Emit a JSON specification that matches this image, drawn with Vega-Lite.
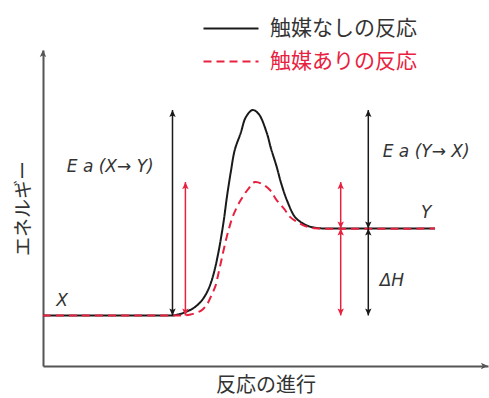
{
  "$schema": "https://vega.github.io/schema/vega-lite/v6.json",
  "width": 445,
  "height": 316,
  "autosize": {"type": "none"},
  "padding": {"left": 43, "top": 50, "right": 1, "bottom": 32},
  "background": "white",
  "config": {"view": {"stroke": null}},
  "datasets": {
    "curves": [
      {"series": "触媒なしの反応", "progress": 0, "energy": 16},
      {"series": "触媒なしの反応", "progress": 26, "energy": 16},
      {"series": "触媒なしの反応", "progress": 29.7, "energy": 16.1},
      {"series": "触媒なしの反応", "progress": 31.9, "energy": 17.0},
      {"series": "触媒なしの反応", "progress": 34.0, "energy": 18.5},
      {"series": "触媒なしの反応", "progress": 35.6, "energy": 20.6},
      {"series": "触媒なしの反応", "progress": 36.8, "energy": 23.2},
      {"series": "触媒なしの反応", "progress": 37.8, "energy": 26.6},
      {"series": "触媒なしの反応", "progress": 38.6, "energy": 30.6},
      {"series": "触媒なしの反応", "progress": 39.3, "energy": 35.1},
      {"series": "触媒なしの反応", "progress": 40.0, "energy": 40.5},
      {"series": "触媒なしの反応", "progress": 40.7, "energy": 46.8},
      {"series": "触媒なしの反応", "progress": 41.3, "energy": 53.2},
      {"series": "触媒なしの反応", "progress": 42.2, "energy": 61.4},
      {"series": "触媒なしの反応", "progress": 43.1, "energy": 68.4},
      {"series": "触媒なしの反応", "progress": 44.4, "energy": 73.6},
      {"series": "触媒なしの反応", "progress": 45.6, "energy": 78.8},
      {"series": "触媒なしの反応", "progress": 47.1, "energy": 81},
      {"series": "触媒なしの反応", "progress": 48.5, "energy": 79.7},
      {"series": "触媒なしの反応", "progress": 50.3, "energy": 73.7},
      {"series": "触媒なしの反応", "progress": 51.2, "energy": 69},
      {"series": "触媒なしの反応", "progress": 52.5, "energy": 63.1},
      {"series": "触媒なしの反応", "progress": 53.5, "energy": 57.9},
      {"series": "触媒なしの反応", "progress": 54.8, "energy": 52.5},
      {"series": "触媒なしの反応", "progress": 56.6, "energy": 47.2},
      {"series": "触媒なしの反応", "progress": 58.2, "energy": 45.3},
      {"series": "触媒なしの反応", "progress": 60, "energy": 44.1},
      {"series": "触媒なしの反応", "progress": 62.2, "energy": 43.6},
      {"series": "触媒なしの反応", "progress": 66, "energy": 43.5},
      {"series": "触媒なしの反応", "progress": 88.1, "energy": 43.5},
      {"series": "触媒ありの反応", "progress": 0, "energy": 16},
      {"series": "触媒ありの反応", "progress": 28.5, "energy": 16},
      {"series": "触媒ありの反応", "progress": 31.9, "energy": 16},
      {"series": "触媒ありの反応", "progress": 33.7, "energy": 16.5},
      {"series": "触媒ありの反応", "progress": 35.7, "energy": 17.7},
      {"series": "触媒ありの反応", "progress": 36.9, "energy": 19.6},
      {"series": "触媒ありの反応", "progress": 37.8, "energy": 22.2},
      {"series": "触媒ありの反応", "progress": 38.7, "energy": 25.1},
      {"series": "触媒ありの反応", "progress": 39.3, "energy": 28.5},
      {"series": "触媒ありの反応", "progress": 40.0, "energy": 32.9},
      {"series": "触媒ありの反応", "progress": 40.8, "energy": 38.0},
      {"series": "触媒ありの反応", "progress": 41.7, "energy": 43.0},
      {"series": "触媒ありの反応", "progress": 42.7, "energy": 47.5},
      {"series": "触媒ありの反応", "progress": 44.3, "energy": 52.2},
      {"series": "触媒ありの反応", "progress": 46.1, "energy": 56.0},
      {"series": "触媒ありの反応", "progress": 47.6, "energy": 58.2},
      {"series": "触媒ありの反応", "progress": 49.2, "energy": 57.6},
      {"series": "触媒ありの反応", "progress": 51, "energy": 55.7},
      {"series": "触媒ありの反応", "progress": 52.5, "energy": 52.5},
      {"series": "触媒ありの反応", "progress": 54.2, "energy": 49.7},
      {"series": "触媒ありの反応", "progress": 55.5, "energy": 47.2},
      {"series": "触媒ありの反応", "progress": 57.1, "energy": 45.6},
      {"series": "触媒ありの反応", "progress": 58.4, "energy": 44.6},
      {"series": "触媒ありの反応", "progress": 60.4, "energy": 43.7},
      {"series": "触媒ありの反応", "progress": 62.2, "energy": 43.5},
      {"series": "触媒ありの反応", "progress": 88.1, "energy": 43.5}
    ],
    "arrows": [
      {"series": "触媒なしの反応", "progress": 29.1, "low": 16, "high": 81},
      {"series": "触媒ありの反応", "progress": 32.0, "low": 16, "high": 58.2},
      {"series": "触媒ありの反応", "progress": 66.9, "low": 43.5, "high": 58.2},
      {"series": "触媒ありの反応", "progress": 66.9, "low": 16, "high": 43.5},
      {"series": "触媒なしの反応", "progress": 73.1, "low": 43.5, "high": 81},
      {"series": "触媒なしの反応", "progress": 73.1, "low": 16, "high": 43.5}
    ],
    "labels": [
      {"text": "E a (X→ Y)", "progress": 15.1, "energy": 63.0},
      {"text": "E a (Y→ X)", "progress": 86.1, "energy": 67.7},
      {"text": "Y", "progress": 86.1, "energy": 48.4},
      {"text": "ΔH", "progress": 78.4, "energy": 26.9},
      {"text": "X", "progress": 4.3, "energy": 20.6}
    ],
    "axisTips": [
      {"axis": "y", "progress": 0, "energy": 100},
      {"axis": "x", "progress": 100, "energy": 0}
    ]
  },
  "layer": [
    {
      "data": {"name": "curves"},
      "mark": {"type": "line", "interpolate": "catmull-rom", "strokeWidth": 2},
      "encoding": {
        "x": {
          "field": "progress", "type": "quantitative",
          "scale": {"domain": [0, 100], "nice": false, "zero": false},
          "axis": {"title": "反応の進行", "labels": false, "ticks": false, "grid": false,
                   "domainColor": "#555555", "domainWidth": 2, "titleFont": "Noto Sans CJK JP",
                   "titleFontSize": 20, "titleFontWeight": "normal", "titleColor": "#333333", "titlePadding": 9}
        },
        "y": {
          "field": "energy", "type": "quantitative",
          "scale": {"domain": [0, 100], "nice": false, "zero": false},
          "axis": {"title": "エネルギー", "labels": false, "ticks": false, "grid": false,
                   "domainColor": "#555555", "domainWidth": 2, "titleFont": "Noto Sans CJK JP",
                   "titleFontSize": 19, "titleFontWeight": "normal", "titleColor": "#333333", "titlePadding": 10}
        },
        "color": {
          "field": "series", "type": "nominal",
          "scale": {"domain": ["触媒なしの反応", "触媒ありの反応"], "range": ["#1a1a1a", "#e8213f"]},
          "legend": {
            "orient": "none", "legendX": 177.5, "legendY": -32, "title": null, "padding": 0,
            "symbolType": "M-9.17,0L9.17,0", "symbolSize": 36, "symbolStrokeWidth": 2,
            "labelOffset": 28.5, "labelFont": "Noto Sans CJK JP", "labelFontSize": 21,
            "labelColor": "#333333", "rowPadding": 11,
            "encode": {"labels": {"update": {"fill": {"signal": "datum.value === '触媒ありの反応' ? '#e8213f' : '#333333'"}}}}
          }
        },
        "strokeDash": {
          "field": "series", "type": "nominal",
          "scale": {"domain": ["触媒なしの反応", "触媒ありの反応"], "range": [[1, 0], [8, 5]]},
          "legend": {
            "orient": "none", "legendX": 177.5, "legendY": -32, "title": null, "padding": 0,
            "symbolType": "M-9.17,0L9.17,0", "symbolSize": 36, "symbolStrokeWidth": 2,
            "labelOffset": 28.5, "labelFont": "Noto Sans CJK JP", "labelFontSize": 21,
            "labelColor": "#333333", "rowPadding": 11,
            "encode": {"labels": {"update": {"fill": {"signal": "datum.value === '触媒ありの反応' ? '#e8213f' : '#333333'"}}}}
          }
        }
      }
    },
    {
      "data": {"name": "arrows"},
      "mark": {"type": "rule", "strokeWidth": 1.5},
      "encoding": {
        "x": {"field": "progress", "type": "quantitative"},
        "y": {"field": "low", "type": "quantitative"},
        "y2": {"field": "high"},
        "color": {"field": "series", "type": "nominal"}
      }
    },
    {
      "data": {"name": "arrows"},
      "mark": {"type": "point", "filled": true, "opacity": 1, "size": 41, "strokeWidth": 0,
               "shape": "M0,0L-1,2.2L0,1.7L1,2.2Z"},
      "encoding": {
        "x": {"field": "progress", "type": "quantitative"},
        "y": {"field": "high", "type": "quantitative"},
        "color": {"field": "series", "type": "nominal"}
      }
    },
    {
      "data": {"name": "arrows"},
      "mark": {"type": "point", "filled": true, "opacity": 1, "size": 41, "strokeWidth": 0,
               "shape": "M0,0L-1,-2.2L0,-1.7L1,-2.2Z"},
      "encoding": {
        "x": {"field": "progress", "type": "quantitative"},
        "y": {"field": "low", "type": "quantitative"},
        "color": {"field": "series", "type": "nominal"}
      }
    },
    {
      "data": {"name": "axisTips"},
      "transform": [{"filter": "datum.axis === 'y'"}],
      "mark": {"type": "point", "filled": true, "opacity": 1, "size": 41, "strokeWidth": 0,
               "color": "#555555", "shape": "M0,0L-1,2.2L0,1.7L1,2.2Z"},
      "encoding": {
        "x": {"field": "progress", "type": "quantitative"},
        "y": {"field": "energy", "type": "quantitative"}
      }
    },
    {
      "data": {"name": "axisTips"},
      "transform": [{"filter": "datum.axis === 'x'"}],
      "mark": {"type": "point", "filled": true, "opacity": 1, "size": 41, "strokeWidth": 0,
               "color": "#555555", "shape": "M0,0L-2.2,-1L-1.7,0L-2.2,1Z"},
      "encoding": {
        "x": {"field": "progress", "type": "quantitative"},
        "y": {"field": "energy", "type": "quantitative"}
      }
    },
    {
      "data": {"name": "labels"},
      "mark": {"type": "text", "font": "DejaVu Sans", "fontStyle": "italic", "fontSize": 17,
               "color": "#333333", "align": "center", "baseline": "middle"},
      "encoding": {
        "x": {"field": "progress", "type": "quantitative"},
        "y": {"field": "energy", "type": "quantitative"},
        "text": {"field": "text", "type": "nominal"}
      }
    }
  ]
}
